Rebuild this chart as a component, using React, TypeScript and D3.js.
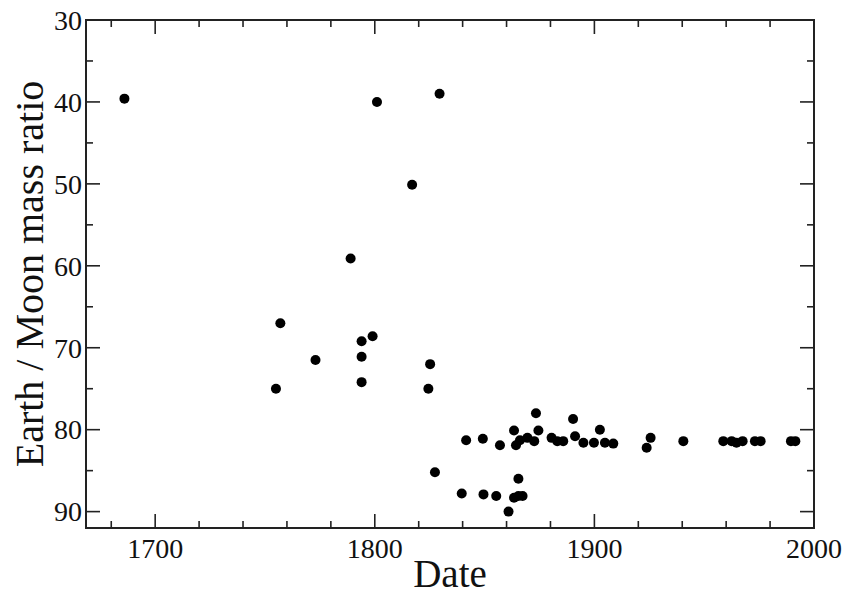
import { scaleLinear, range } from 'd3'
import { useEffect } from 'react'

const width = 848,
      height = 594,
      margin = { top: 20, right: 34, bottom: 66, left: 86 },
      innerWidth = width - margin.left - margin.right,
      innerHeight = height - margin.top - margin.bottom,
      font = 'Liberation Serif, Times New Roman, serif'

// years of each determination
const years = [
  1686, 1755, 1757, 1773, 1789, 1794, 1794, 1794, 1799, 1801, 1817, 1829.5,
  1824.4, 1825.2, 1827.4,
  1839.6, 1849.5, 1855.3, 1860.9, 1863.4, 1865.4, 1867.3, 1865.4,
  1841.6, 1849.2, 1857, 1863.4, 1864.3, 1866.1, 1869.5, 1872.6, 1873.4, 1874.5,
  1880.5, 1883.1, 1885.8, 1890.3, 1891.2, 1895, 1899.8, 1902.5, 1904.8, 1908.6,
  1923.8, 1925.6, 1940.5, 1958.7, 1962.5, 1964.7, 1967.5, 1973.1, 1975.7, 1989.5, 1991.5
]

// earth / moon mass ratio found
const ratios = [
  39.6, 75.0, 67.0, 71.5, 59.1, 69.2, 71.1, 74.2, 68.6, 40.0, 50.1, 39.0,
  75.0, 72.0, 85.2,
  87.8, 87.9, 88.1, 90.0, 88.3, 88.1, 88.1, 86.0,
  81.3, 81.1, 81.9, 80.1, 81.9, 81.3, 81.0, 81.4, 78.0, 80.1,
  81.0, 81.4, 81.4, 78.7, 80.8, 81.6, 81.6, 80.0, 81.6, 81.7,
  82.2, 81.0, 81.4, 81.4, 81.4, 81.6, 81.4, 81.4, 81.4, 81.4, 81.4
]

const xMajor = [1700, 1800, 1900, 2000]
const xMinor = range(1680, 2001, 20)
const yMajor = [30, 40, 50, 60, 70, 80, 90]
const yMinor = range(35, 91, 10)

const x = scaleLinear().domain([1668.5, 2000]).range([0, innerWidth])
// y runs downward: small ratios at the top
const y = scaleLinear().domain([30, 92]).range([0, innerHeight])

const App = () => {
  useEffect(() => { document.body.style.margin = '0' }, [])

  const major = 14, minor = 7

  return (
    <svg width={width} height={height} style={{ display: 'block', background: '#fff' }}>
      <g transform={`translate(${margin.left}, ${margin.top})`}>

        <rect x='0' y='0' width={innerWidth} height={innerHeight}
              fill='none' stroke='#222' strokeWidth='2' />

        <g className='x-ticks' stroke='#222' strokeWidth='1.6'>
          { xMinor.map(v =>
            <g key={v}>
              <line x1={x(v)} x2={x(v)} y1={innerHeight} y2={innerHeight - (xMajor.includes(v) ? major : minor)} />
              <line x1={x(v)} x2={x(v)} y1='0' y2={xMajor.includes(v) ? major : minor} />
            </g>
          )}
        </g>

        <g className='y-ticks' stroke='#222' strokeWidth='1.6'>
          { yMajor.map(v =>
            <g key={v}>
              <line x1='0' x2={major} y1={y(v)} y2={y(v)} />
              <line x1={innerWidth} x2={innerWidth - major} y1={y(v)} y2={y(v)} />
            </g>
          )}
          { yMinor.map(v =>
            <g key={v}>
              <line x1='0' x2={minor} y1={y(v)} y2={y(v)} />
              <line x1={innerWidth} x2={innerWidth - minor} y1={y(v)} y2={y(v)} />
            </g>
          )}
        </g>

        { xMajor.map(v =>
          <text key={v} x={x(v)} y={innerHeight + 30} fontFamily={font}
                fontSize='28' fill='#111' textAnchor='middle'>{v}</text>
        )}

        { yMajor.map(v =>
          <text key={v} x='-4' y={y(v)} dy='0.35em' fontFamily={font}
                fontSize='28' fill='#111' textAnchor='end'>{v}</text>
        )}

        <text x={innerWidth / 2} y={innerHeight + 59} fontFamily={font}
              fontSize='39' textAnchor='middle' fill='#111'>Date</text>
        <text transform={`translate(-43, ${innerHeight / 2}) rotate(-90)`} fontFamily={font}
              fontSize='40' textAnchor='middle' fill='#111'>Earth / Moon mass ratio</text>

        <g className='points'>
          { years.map((d, i) =>
            <circle key={i} cx={x(d)} cy={y(ratios[i])} r='5' fill='#000' />
          )}
        </g>
      </g>
    </svg>
  )
}

export default App
